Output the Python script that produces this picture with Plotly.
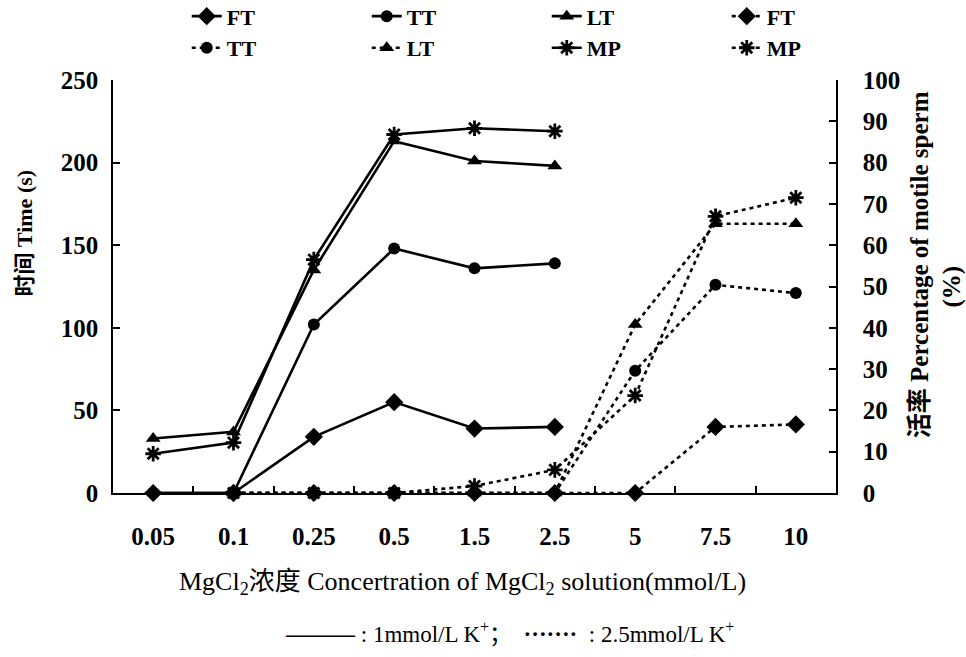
import plotly.graph_objects as go

# MgCl2 concentrations (mmol/L), shown as evenly spaced categories
conc = ["0.05", "0.1", "0.25", "0.5", "1.5", "2.5", "5", "7.5", "10"]

# 1 mmol/L K+ (solid lines): 0.05 - 2.5 mmol/L MgCl2
conc_k1 = conc[:6]
ft_k1 = [0, 0, 34, 55, 39, 40]          # time (s)
tt_k1 = [0, 0, 102, 148, 136, 139]      # time (s)
lt_k1 = [33, 37, 135, 213, 201, 198]    # time (s)
mp_k1 = [9.5, 12.2, 56.5, 86.8, 88.3, 87.6]   # motile sperm (%)

# 2.5 mmol/L K+ (dotted lines): 0.1 - 10 mmol/L MgCl2
conc_k25 = conc[1:]
ft_k25 = [0, 0, 0, 0, 0, 0, 40, 41.5]
tt_k25 = [0, 0, 0, 0, 0, 74, 126, 121]
lt_k25 = [0, 0, 0, 0, 0, 102, 163, 163]
mp_k25 = [0, 0, 0, 1.7, 5.6, 23.6, 67, 71.5]

SERIF = "Liberation Serif, Times New Roman, Noto Sans CJK SC, serif"
BLACK = "black"
DOT = "4px,4px"


def series(x, y, name, symbol, dash, yaxis="y", size=12):
    marker = dict(symbol=symbol, size=size, color=BLACK)
    if symbol.startswith("asterisk"):
        marker = dict(symbol="asterisk-open", size=size + 1,
                      color=BLACK, line=dict(color=BLACK, width=2.8))
    return go.Scatter(
        x=x, y=y, name=name, yaxis=yaxis, mode="lines+markers",
        line=dict(color=BLACK, width=2.6, dash=dash),
        marker=marker, cliponaxis=False,
    )


fig = go.Figure()
fig.add_trace(series(conc_k1, ft_k1, "FT", "diamond", "solid", size=14))
fig.add_trace(series(conc_k1, tt_k1, "TT", "circle", "solid"))
fig.add_trace(series(conc_k1, lt_k1, "LT", "triangle-up", "solid", size=13))
fig.add_trace(series(conc_k25, ft_k25, "FT", "diamond", DOT, size=14))
fig.add_trace(series(conc_k25, tt_k25, "TT", "circle", DOT))
fig.add_trace(series(conc_k25, lt_k25, "LT", "triangle-up", DOT, size=13))
fig.add_trace(series(conc_k1, mp_k1, "MP", "asterisk", "solid", yaxis="y2"))
fig.add_trace(series(conc_k25, mp_k25, "MP", "asterisk", DOT, yaxis="y2"))

tick_font = dict(family=SERIF, size=25, color=BLACK, weight="bold")
axis_common = dict(
    showline=True, linecolor=BLACK, linewidth=1.5,
    ticks="inside", ticklen=7, tickwidth=1.5, tickcolor=BLACK,
    showgrid=False, zeroline=False, tickfont=tick_font,
)

fig.update_layout(
    width=966, height=657,
    margin=dict(l=113, r=130, t=80, b=164, autoexpand=False),
    paper_bgcolor="white", plot_bgcolor="white",
    font=dict(family=SERIF, color=BLACK),
    showlegend=True,
    legend=dict(
        orientation="h", x=0.102, xanchor="left", y=1.205, yanchor="top",
        entrywidth=135, entrywidthmode="pixels",
        font=dict(family=SERIF, size=22, color=BLACK, weight="bold"),
        bgcolor="rgba(0,0,0,0)", tracegroupgap=0,
    ),
    xaxis=dict(
        type="category", categoryorder="array", categoryarray=conc,
        range=[-0.5, len(conc) - 0.5], tickson="boundaries",
        ticklabelstandoff=20, **axis_common,
    ),
    yaxis=dict(range=[0, 250], dtick=50, ticklabelstandoff=8, **axis_common),
    yaxis2=dict(range=[0, 100], dtick=10, side="right", overlaying="y",
                ticklabelstandoff=20, **axis_common),
)

title_font = dict(family=SERIF, size=22, color=BLACK, weight="bold")

# axis titles
fig.add_annotation(
    text="时间 Time (s)", textangle=-90, xref="paper", yref="paper",
    x=-0.122, y=0.63, xanchor="center", yanchor="middle", showarrow=False,
    font=title_font,
)
fig.add_annotation(
    text="活率 Percentage of motile sperm", textangle=-90,
    xref="paper", yref="paper", x=1.115, y=0.552,
    xanchor="center", yanchor="middle", showarrow=False,
    font=dict(title_font, size=25),
)
fig.add_annotation(
    text="(%)", textangle=-90, xref="paper", yref="paper",
    x=1.16, y=0.499, xanchor="center", yanchor="middle", showarrow=False,
    font=dict(title_font, size=25),
)
fig.add_annotation(
    text="MgCl<sub>2</sub>浓度 Concertration of MgCl<sub>2</sub> solution(mmol/L)",
    xref="paper", yref="paper", x=0.483, y=-0.218,
    xanchor="center", yanchor="middle", showarrow=False,
    font=dict(family=SERIF, size=26, color=BLACK),
)
fig.add_annotation(
    text="<b>———</b> : 1mmol/L K<sup>+</sup>；  <b>·······</b>  : 2.5mmol/L K<sup>+</sup>",
    xref="paper", yref="paper", x=0.549, y=-0.337,
    xanchor="center", yanchor="middle", showarrow=False,
    font=dict(family=SERIF, size=23, color=BLACK),
)

fig.write_html("out.html")
